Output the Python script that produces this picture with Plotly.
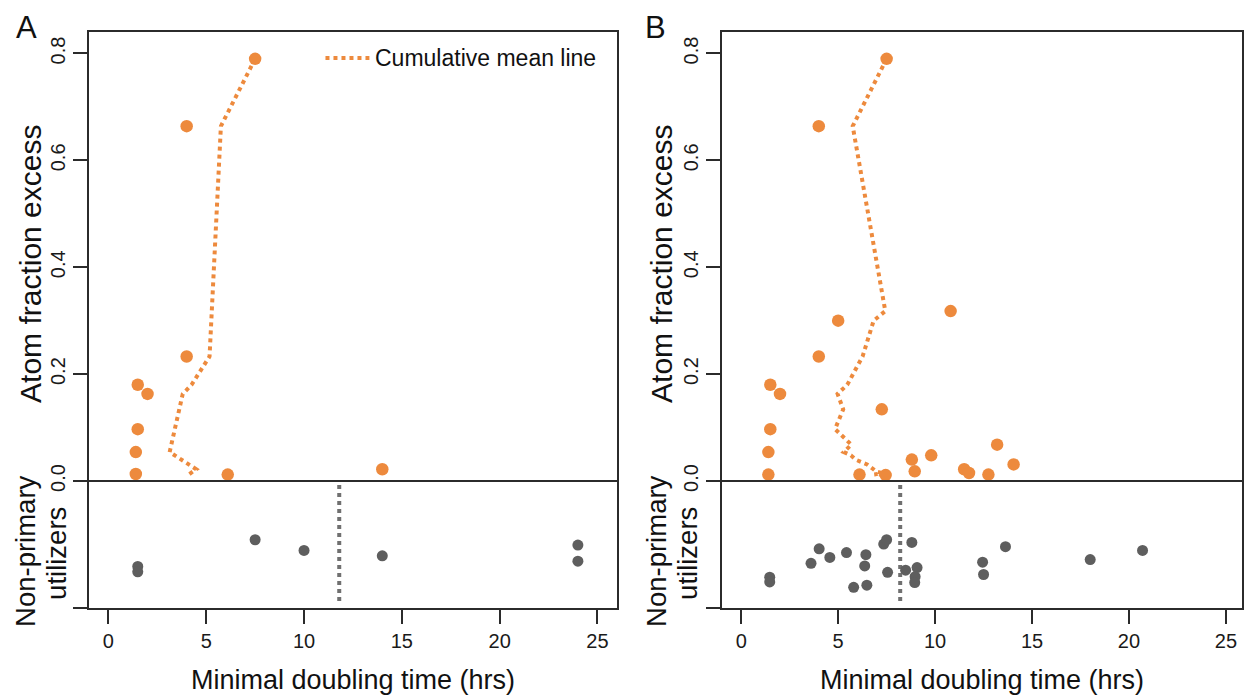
import plotly.graph_objects as go

W, H = 1244, 695

ORANGE = "#ED8A3D"
GREY_PT = "#5E5E5E"
GREY_LN = "#707070"
AX = "#2B2B2B"
FONT = "Liberation Sans, Arial, Helvetica, sans-serif"

# ---- Panel A: primary utilizers -------------------------------------------
a_time = [7.5, 4.0, 4.0, 1.5, 2.0, 1.5, 1.4, 14.0, 1.4, 6.1]
a_afe = [0.79, 0.664, 0.233, 0.18, 0.163, 0.097, 0.054, 0.022, 0.013, 0.012]
# cumulative mean doubling time, taken in order of decreasing enrichment
a_cum_time = [7.5, 5.75, 5.17, 4.25, 3.80, 3.42, 3.13, 4.49, 4.14, 4.34]
a_cum_afe = [0.79, 0.664, 0.233, 0.18, 0.163, 0.097, 0.054, 0.022, 0.013, 0.012]
# non-primary utilizers (vertical position is jitter only)
a_np_time = [1.5, 1.5, 7.5, 10.0, 14.0, 24.0, 24.0]
a_np_jit = [-0.160, -0.170, -0.110, -0.130, -0.140, -0.120, -0.150]
a_np_mean = 11.8

# ---- Panel B: primary utilizers -------------------------------------------
b_time = [7.5, 4.0, 10.8, 5.0, 4.0, 1.5, 2.0, 7.25, 1.5, 13.2, 1.4,
          9.8, 8.8, 14.05, 11.5, 8.95, 11.75, 1.4, 6.1, 12.75, 7.45]
b_afe = [0.79, 0.664, 0.318, 0.30, 0.233, 0.18, 0.163, 0.134, 0.097, 0.068, 0.054,
         0.048, 0.040, 0.031, 0.022, 0.018, 0.015, 0.012, 0.012, 0.012, 0.011]
b_cum_time = [7.5, 5.75, 7.43, 6.83, 6.26, 5.47, 4.97, 5.26, 4.84, 5.68, 5.29,
              5.66, 5.90, 6.49, 6.82, 6.95, 7.24, 6.91, 6.87, 7.16, 7.18]
b_cum_afe = [0.79, 0.664, 0.318, 0.30, 0.233, 0.18, 0.163, 0.134, 0.097, 0.068, 0.054,
             0.048, 0.040, 0.031, 0.022, 0.018, 0.015, 0.012, 0.012, 0.012, 0.011]
b_np_time = [1.47, 1.47, 3.6, 4.02, 4.57, 5.43, 5.8, 6.37, 6.43, 6.48, 7.35, 7.5,
             7.55, 8.48, 8.8, 9.07, 8.97, 8.95, 12.45, 12.5, 13.63, 18.0, 20.7]
b_np_jit = [-0.180, -0.189, -0.154, -0.127, -0.143, -0.134, -0.199, -0.159, -0.138,
            -0.195, -0.118, -0.110, -0.171, -0.167, -0.115, -0.162, -0.179, -0.190,
            -0.152, -0.175, -0.123, -0.147, -0.130]
b_np_mean = 8.2

x_ticks = [0, 5, 10, 15, 20, 25]
Y_BOTTOM, Y_TOP = -0.2377, 0.8402
y_ticks = [Y_BOTTOM, 0.0, 0.2, 0.4, 0.6, 0.8]
y_ticktext = ["", "0.0", "0.2", "0.4", "0.6", "0.8"]
MEAN_SPAN = [-0.0075, -0.228]

fig = go.Figure()

panels = [
    ("x", "y", a_time, a_afe, a_cum_time, a_cum_afe, a_np_time, a_np_jit, a_np_mean),
    ("x2", "y2", b_time, b_afe, b_cum_time, b_cum_afe, b_np_time, b_np_jit, b_np_mean),
]
for xa, ya, t, afe, ct, ca, nt, nj, nm in panels:
    fig.add_trace(go.Scatter(x=ct, y=ca, mode="lines", xaxis=xa, yaxis=ya,
                             line=dict(color=ORANGE, width=4, dash="dot"),
                             showlegend=False, hoverinfo="skip"))
    fig.add_trace(go.Scatter(x=t, y=afe, mode="markers", xaxis=xa, yaxis=ya,
                             marker=dict(color=ORANGE, size=12.5, line=dict(width=0)),
                             showlegend=False))
    fig.add_trace(go.Scatter(x=[nm, nm], y=MEAN_SPAN, mode="lines", xaxis=xa, yaxis=ya,
                             line=dict(color=GREY_LN, width=4, dash="dot"),
                             showlegend=False, hoverinfo="skip"))
    fig.add_trace(go.Scatter(x=nt, y=nj, mode="markers", xaxis=xa, yaxis=ya,
                             marker=dict(color=GREY_PT, size=11, line=dict(width=0)),
                             showlegend=False))

common_x = dict(tickvals=x_ticks, ticks="outside", ticklen=14, tickwidth=1.5,
                tickcolor=AX, showline=True, mirror=True, linecolor=AX, linewidth=1.8,
                showgrid=False, zeroline=False,
                tickfont=dict(family=FONT, size=20, color="#1A1A1A"))
common_y = dict(tickvals=y_ticks, ticktext=y_ticktext, tickangle=-90,
                range=[Y_BOTTOM, Y_TOP], domain=[87 / H, 663 / H],
                ticks="outside", ticklen=14, tickwidth=1.5, tickcolor=AX,
                showline=True, mirror=True, linecolor=AX, linewidth=1.8,
                showgrid=False, zeroline=False,
                tickfont=dict(family=FONT, size=20, color="#1A1A1A"))

fig.update_layout(
    width=W, height=H,
    margin=dict(l=0, r=0, t=0, b=0),
    paper_bgcolor="white", plot_bgcolor="white",
    font=dict(family=FONT, color="#111111"),
    xaxis=dict(domain=[89 / W, 618 / W], range=[-1, 26], anchor="y", **common_x),
    yaxis=dict(anchor="x", **common_y),
    xaxis2=dict(domain=[723 / W, 1.0], range=[-1, 25.83], anchor="y2", **common_x),
    yaxis2=dict(anchor="x2", **common_y),
)

# separator between enrichment panel and non-primary strip
for xr, yr in [("x domain", "y"), ("x2 domain", "y2")]:
    fig.add_shape(type="line", xref=xr, yref=yr, x0=0, x1=1, y0=0, y1=0,
                  line=dict(color=AX, width=1.8))

# legend entry for the cumulative mean line
fig.add_shape(type="line", xref="paper", yref="paper",
              x0=326 / W, x1=370 / W, y0=1 - 58 / H, y1=1 - 58 / H,
              line=dict(color=ORANGE, width=4, dash="dot"))

ann = []
ann.append(dict(text="Cumulative mean line", x=374 / W, y=1 - 58 / H,
                xanchor="left", yanchor="middle", font=dict(size=23)))
for label, xd in [("A", 27 / W), ("B", 657 / W)]:
    ann.append(dict(text=label, x=xd, y=1 - 27 / H, xanchor="center",
                    yanchor="middle", font=dict(size=31)))
for cx in [31, 663]:
    ann.append(dict(text="Atom fraction excess", x=cx / W, y=1 - 264 / H,
                    textangle=-90, xanchor="center", yanchor="middle",
                    font=dict(size=30)))
    ann.append(dict(text="Non-primary", x=(cx - 6) / W, y=1 - 551 / H,
                    textangle=-90, xanchor="center", yanchor="middle",
                    font=dict(size=27.5)))
    ann.append(dict(text="utilizers", x=(cx + 25) / W, y=1 - 553 / H,
                    textangle=-90, xanchor="center", yanchor="middle",
                    font=dict(size=27.5)))
for xr in ["x domain", "x2 domain"]:
    ann.append(dict(text="Minimal doubling time (hrs)", xref=xr, x=0.5,
                    y=1 - 680 / H, xanchor="center", yanchor="middle",
                    font=dict(size=27)))

for a in ann:
    a.setdefault("xref", "paper")
    a.setdefault("yref", "paper")
    a["showarrow"] = False
    a["font"] = dict(family=FONT, color="#111111", **a["font"])
fig.update_layout(annotations=ann)

fig.write_html("out.html")
